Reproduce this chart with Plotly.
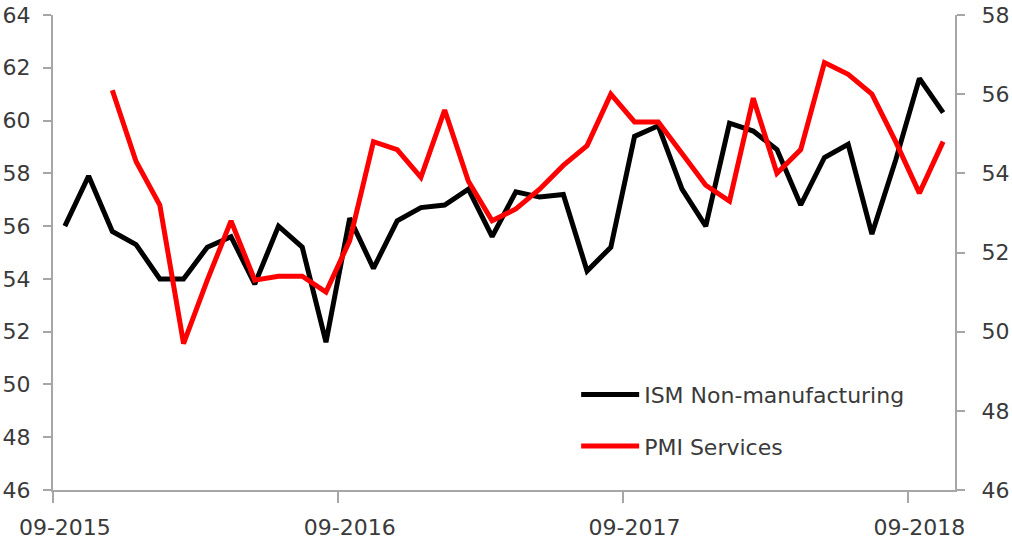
import plotly.graph_objects as go

# ---- data ----
months = [f"{m:02d}-{y}" for y, m in
          [(2015, 9), (2015, 10), (2015, 11), (2015, 12)] +
          [(2016, k) for k in range(1, 13)] +
          [(2017, k) for k in range(1, 13)] +
          [(2018, k) for k in range(1, 11)]]

ism_non_manufacturing = [56.0, 57.9, 55.8, 55.3, 54.0, 54.0, 55.2, 55.6, 53.8, 56.0,
                         55.2, 51.6, 56.3, 54.4, 56.2, 56.7, 56.8, 57.4, 55.6, 57.3,
                         57.1, 57.2, 54.3, 55.2, 59.4, 59.8, 57.4, 56.0, 59.9, 59.6,
                         58.9, 56.8, 58.6, 59.1, 55.7, 58.5, 61.6, 60.3]

pmi_services = [None, None, 56.1, 54.3, 53.2, 49.7, 51.3, 52.8, 51.3, 51.4,
                51.4, 51.0, 52.3, 54.8, 54.6, 53.9, 55.6, 53.8, 52.8, 53.1,
                53.6, 54.2, 54.7, 56.0, 55.3, 55.3, 54.5, 53.7, 53.3, 55.9,
                54.0, 54.6, 56.8, 56.5, 56.0, 54.8, 53.5, 54.8]

tick_labels = ["09-2015", "09-2016", "09-2017", "09-2018"]

# ---- figure ----
x_idx = list(range(len(months)))
label_pos = [months.index(t) for t in tick_labels]
boundary_pos = [p - 0.5 for p in label_pos]

FONT = "DejaVu Sans"
TXT = "#3a3a3a"
AX = "#a6a6a6"
FS = 22

fig = go.Figure()
fig.add_trace(go.Scatter(
    x=x_idx, y=ism_non_manufacturing, name="ISM Non-manufacturing",
    mode="lines", line=dict(color="#000000", width=5),
    legendgroup="a", yaxis="y"))
fig.add_trace(go.Scatter(
    x=x_idx, y=pmi_services, name="PMI Services",
    mode="lines", line=dict(color="#ff0000", width=5),
    legendgroup="b", yaxis="y2"))

fig.update_layout(
    width=1012, height=550,
    margin=dict(l=53, r=57, t=15, b=60, autoexpand=False),
    paper_bgcolor="white", plot_bgcolor="white",
    font=dict(family=FONT, size=FS, color=TXT),
    showlegend=True,
    legend=dict(x=0.580, y=0.245, xanchor="left", yanchor="top",
                bgcolor="rgba(0,0,0,0)", tracegroupgap=20,
                itemwidth=58, font=dict(size=FS, color=TXT)),
    xaxis=dict(
        range=[-0.5, len(months) - 0.5], automargin=False,
        tickmode="array", tickvals=label_pos, ticktext=tick_labels,
        ticks="outside", ticklen=0, tickcolor="rgba(0,0,0,0)",
        ticklabelstandoff=17,
        showline=True, linecolor=AX, linewidth=2,
        showgrid=False, zeroline=False,
        minor=dict(tickmode="array", tickvals=boundary_pos,
                   ticks="outside", ticklen=11, tickwidth=2, tickcolor=AX,
                   showgrid=False),
    ),
    yaxis=dict(
        range=[46, 64], dtick=2, tick0=46, automargin=False,
        ticks="outside", ticklen=8, tickwidth=2, tickcolor=AX,
        showline=True, linecolor=AX, linewidth=2,
        showgrid=False, zeroline=False, ticklabelstandoff=8,
    ),
    yaxis2=dict(
        range=[46, 58], dtick=2, tick0=46, overlaying="y", side="right",
        automargin=False,
        ticks="outside", ticklen=8, tickwidth=2, tickcolor=AX,
        showline=True, linecolor=AX, linewidth=2,
        showgrid=False, zeroline=False, ticklabelstandoff=12,
    ),
)

# remove the default 8px page margin so the 1012x550 figure fills the window
fig.write_html("out.html",
               config={"displayModeBar": False},
               post_script="document.body.style.margin='0';"
                           "document.body.style.overflow='hidden';")
